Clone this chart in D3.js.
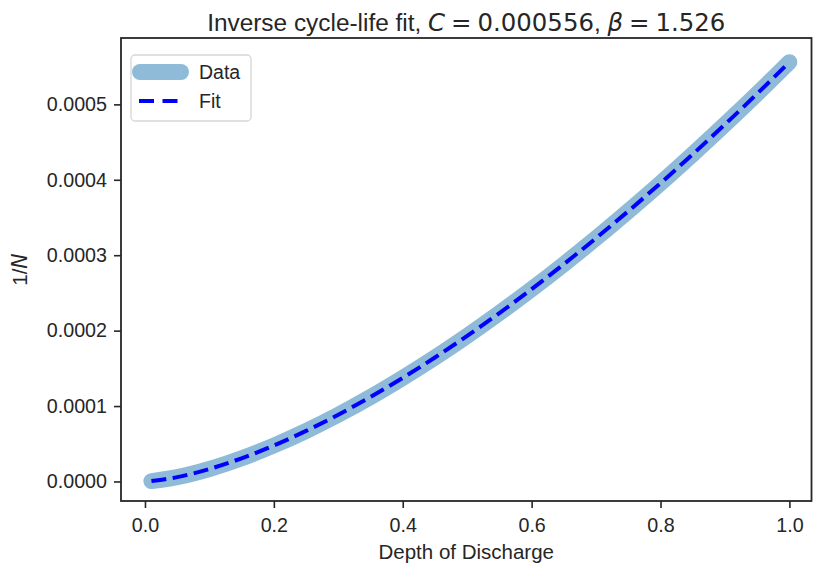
<!DOCTYPE html>
<html>
<head>
<meta charset="utf-8">
<script src="https://cdn.jsdelivr.net/npm/d3@7"></script>
<style>
  html, body { margin: 0; padding: 0; background: #fff; }
  svg { display: block; }
  text { white-space: pre; }
</style>
</head>
<body>
<div id="chart"></div>
<script>
// depth of discharge samples and measured inverse cycle life
const dod = [0.01, 0.05, 0.10, 0.15, 0.20, 0.25, 0.30, 0.35, 0.40, 0.45, 0.50,
             0.55, 0.60, 0.65, 0.70, 0.75, 0.80, 0.85, 0.90, 0.95, 1.00];
const invN = [0.0000005, 0.0000058, 0.0000166, 0.0000308, 0.0000477, 0.0000670,
              0.0000885, 0.0001120, 0.0001374, 0.0001644, 0.0001931, 0.0002233,
              0.0002550, 0.0002881, 0.0003226, 0.0003585, 0.0003955, 0.0004339,
              0.0004734, 0.0005141, 0.0005560];

// fitted power law 1/N = C * DoD^beta
const fitC = 0.000556;
const fitBeta = 1.526;

const xTicks = [0.0, 0.2, 0.4, 0.6, 0.8, 1.0];
const yTicks = [0.0000, 0.0001, 0.0002, 0.0003, 0.0004, 0.0005];

const width = 813, height = 566;
const margin = {top: 38, right: 1.5, bottom: 65, left: 121};
const plotW = width - margin.left - margin.right;
const plotH = height - margin.top - margin.bottom;

const ink = "#262626";
const sans = "'Liberation Sans', Arial, sans-serif";
const mathFont = "'DejaVu Sans', sans-serif";

const svg = d3.select("#chart")
  .append("svg")
  .attr("width", width)
  .attr("height", height);

const g = svg.append("g")
  .attr("transform", "translate(" + margin.left + "," + margin.top + ")");

let xScale = d3.scaleLinear()
  .domain([-0.0372, 1.0343])
  .range([0, plotW]);

let yScale = d3.scaleLinear()
  .domain([-0.0000259, 0.000588])
  .range([plotH, 0]);

// data band
const points = dod.map((d, i) => [d, invN[i]]);
const line = d3.line()
  .x(d => xScale(d[0]))
  .y(d => yScale(d[1]))
  .curve(d3.curveMonotoneX);

g.append("path")
  .datum(points)
  .attr("fill", "none")
  .attr("stroke", "#8fbbd9")
  .attr("stroke-width", 16)
  .attr("stroke-linecap", "round")
  .attr("stroke-linejoin", "round")
  .attr("d", line);

// fit curve
const fitPoints = dod.map(d => [d, fitC * Math.pow(d, fitBeta)]);
g.append("path")
  .datum(fitPoints)
  .attr("fill", "none")
  .attr("stroke", "#0000ff")
  .attr("stroke-width", 4)
  .attr("stroke-dasharray", "15,6.5")
  .attr("d", line);

// axes
const xAxis = g.append("g")
  .attr("transform", "translate(0," + plotH + ")")
  .call(d3.axisBottom(xScale)
    .tickValues(xTicks)
    .tickFormat(d3.format(".1f"))
    .tickSize(7)
    .tickPadding(8));

const yAxis = g.append("g")
  .call(d3.axisLeft(yScale)
    .tickValues(yTicks)
    .tickFormat(d3.format(".4f"))
    .tickSize(7)
    .tickPadding(7));

[xAxis, yAxis].forEach(a => {
  a.select(".domain").remove();
  a.selectAll(".tick line").attr("stroke", ink).attr("stroke-width", 1.6);
  a.selectAll(".tick text")
    .attr("fill", ink)
    .style("font-family", sans)
    .style("font-size", "19.7px");
});
xAxis.selectAll(".tick text").attr("dy", "0.8em");

// frame
g.append("rect")
  .attr("x", 0)
  .attr("y", 0)
  .attr("width", plotW)
  .attr("height", plotH)
  .attr("fill", "none")
  .attr("stroke", ink)
  .attr("stroke-width", 1.8);

// labels
svg.append("text")
  .attr("x", margin.left + plotW / 2)
  .attr("y", 559)
  .attr("text-anchor", "middle")
  .attr("fill", ink)
  .style("font-family", sans)
  .style("font-size", "20.5px")
  .text("Depth of Discharge");

const yLab = svg.append("text")
  .attr("transform", "translate(27," + (margin.top + plotH / 2) + ") rotate(-90)")
  .attr("text-anchor", "middle")
  .attr("fill", ink)
  .style("font-family", sans)
  .style("font-size", "20.5px");
yLab.append("tspan").text("1/");
yLab.append("tspan").style("font-family", mathFont).style("font-style", "italic").text("N");

const title = svg.append("text")
  .attr("x", margin.left + plotW / 2)
  .attr("y", 31)
  .attr("text-anchor", "middle")
  .attr("fill", ink)
  .style("font-size", "24.4px");
title.append("tspan").style("font-family", sans).text("Inverse cycle-life fit, ");
title.append("tspan").style("font-family", mathFont).style("font-style", "italic").text("C");
title.append("tspan").style("font-family", mathFont).attr("dx", 6).text("=");
title.append("tspan").style("font-family", mathFont).attr("dx", 6).text("0.000556");
title.append("tspan").style("font-family", sans).text(", ");
title.append("tspan").style("font-family", mathFont).style("font-style", "italic").text("β");
title.append("tspan").style("font-family", mathFont).attr("dx", 6).text("=");
title.append("tspan").style("font-family", mathFont).attr("dx", 6).text("1.526");

// legend
const legend = svg.append("g").attr("transform", "translate(131,55)");
legend.append("rect")
  .attr("width", 120)
  .attr("height", 66)
  .attr("rx", 4)
  .attr("fill", "rgba(255,255,255,0.8)")
  .attr("stroke", "#d6d6d6")
  .attr("stroke-width", 1.3);

legend.append("line")
  .attr("x1", 9).attr("x2", 50)
  .attr("y1", 17).attr("y2", 17)
  .attr("stroke", "#8fbbd9")
  .attr("stroke-width", 16)
  .attr("stroke-linecap", "round");
legend.append("line")
  .attr("x1", 8).attr("x2", 47)
  .attr("y1", 46).attr("y2", 46)
  .attr("stroke", "#0000ff")
  .attr("stroke-width", 4)
  .attr("stroke-dasharray", "15,8.5");

legend.selectAll("text.entry")
  .data(["Data", "Fit"])
  .join("text")
  .attr("class", "entry")
  .attr("x", 68)
  .attr("y", (d, i) => 24 + i * 28.5)
  .attr("fill", ink)
  .style("font-family", sans)
  .style("font-size", "19.5px")
  .text(d => d);
</script>
</body>
</html>
